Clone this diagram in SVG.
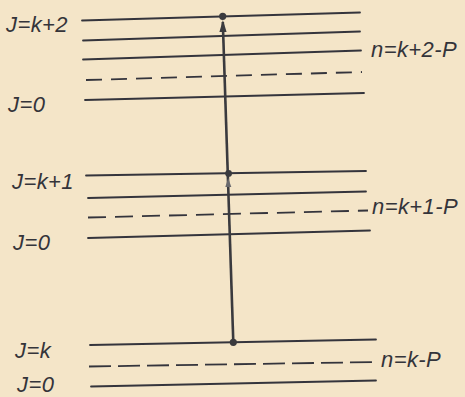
<svg xmlns="http://www.w3.org/2000/svg" width="465" height="397" viewBox="0 0 465 397">
<style>
.lv{stroke:#34343c;stroke-width:1.8;fill:none;stroke-linecap:round}
.ds{stroke:#34343c;stroke-width:1.8;fill:none}
.t{font-family:"Liberation Sans","DejaVu Sans",sans-serif;font-style:italic;font-size:22px;letter-spacing:0.4px;fill:#34343a}
.ax{stroke:#3a3a3e;stroke-width:2.6;fill:none}
.dot{fill:#3a3a3e}
</style>
<rect width="465" height="397" fill="#f4e5c8"/>
<g id="group-top">
  <g id="lvl-k2"><line class="lv" x1="82" y1="20.5" x2="360" y2="12.5"/><text class="t" x="6" y="31.5">J=k+2</text></g>
  <g id="lvl-top-2"><line class="lv" x1="83" y1="40.5" x2="360" y2="31.5"/></g>
  <g id="lvl-top-3"><line class="lv" x1="83" y1="59.5" x2="361" y2="50.5"/></g>
  <g id="lvl-top-n"><line class="ds" x1="86" y1="80" x2="362" y2="72" stroke-dasharray="16 9"/><text class="t" x="371" y="57">n=k+2-P</text></g>
  <g id="lvl-top-0"><line class="lv" x1="85" y1="100" x2="364" y2="93"/><text class="t" x="8" y="112">J=0</text></g>
</g>
<g id="group-mid">
  <g id="lvl-k1"><line class="lv" x1="86" y1="175.5" x2="366" y2="171"/><text class="t" x="12" y="189">J=k+1</text></g>
  <g id="lvl-mid-2"><line class="lv" x1="88" y1="198" x2="366" y2="191.5"/></g>
  <g id="lvl-mid-n"><line class="ds" x1="88" y1="217.5" x2="368" y2="210.5" stroke-dasharray="18 9"/><text class="t" x="372" y="214">n=k+1-P</text></g>
  <g id="lvl-mid-0"><line class="lv" x1="88" y1="238" x2="370" y2="230.5"/><text class="t" x="13" y="250">J=0</text></g>
</g>
<g id="group-bot">
  <g id="lvl-k"><line class="lv" x1="90" y1="345" x2="376" y2="339.5"/><text class="t" x="15" y="358">J=k</text></g>
  <g id="lvl-bot-n"><line class="ds" x1="89" y1="366.5" x2="377" y2="362" stroke-dasharray="22 7"/><text class="t" x="381" y="367">n=k-P</text></g>
  <g id="lvl-bot-0"><line class="lv" x1="91" y1="386.5" x2="376" y2="380.5"/><text class="t" x="17" y="392">J=0</text></g>
</g>
<g id="connectors">
  <line class="ax" x1="233.3" y1="342.3" x2="222.8" y2="22"/>
  <polygon points="222.9,20 226.6,32 219.4,32" fill="#3a3a3e"/>
  <polygon points="228.2,178 231.3,187 225.3,187" fill="#6a6a6e"/>
  <circle class="dot" cx="222.7" cy="16.3" r="3.6"/>
  <circle class="dot" cx="228.6" cy="173.4" r="3.4"/>
  <circle class="dot" cx="233.3" cy="342.3" r="3.6"/>
</g>
</svg>
